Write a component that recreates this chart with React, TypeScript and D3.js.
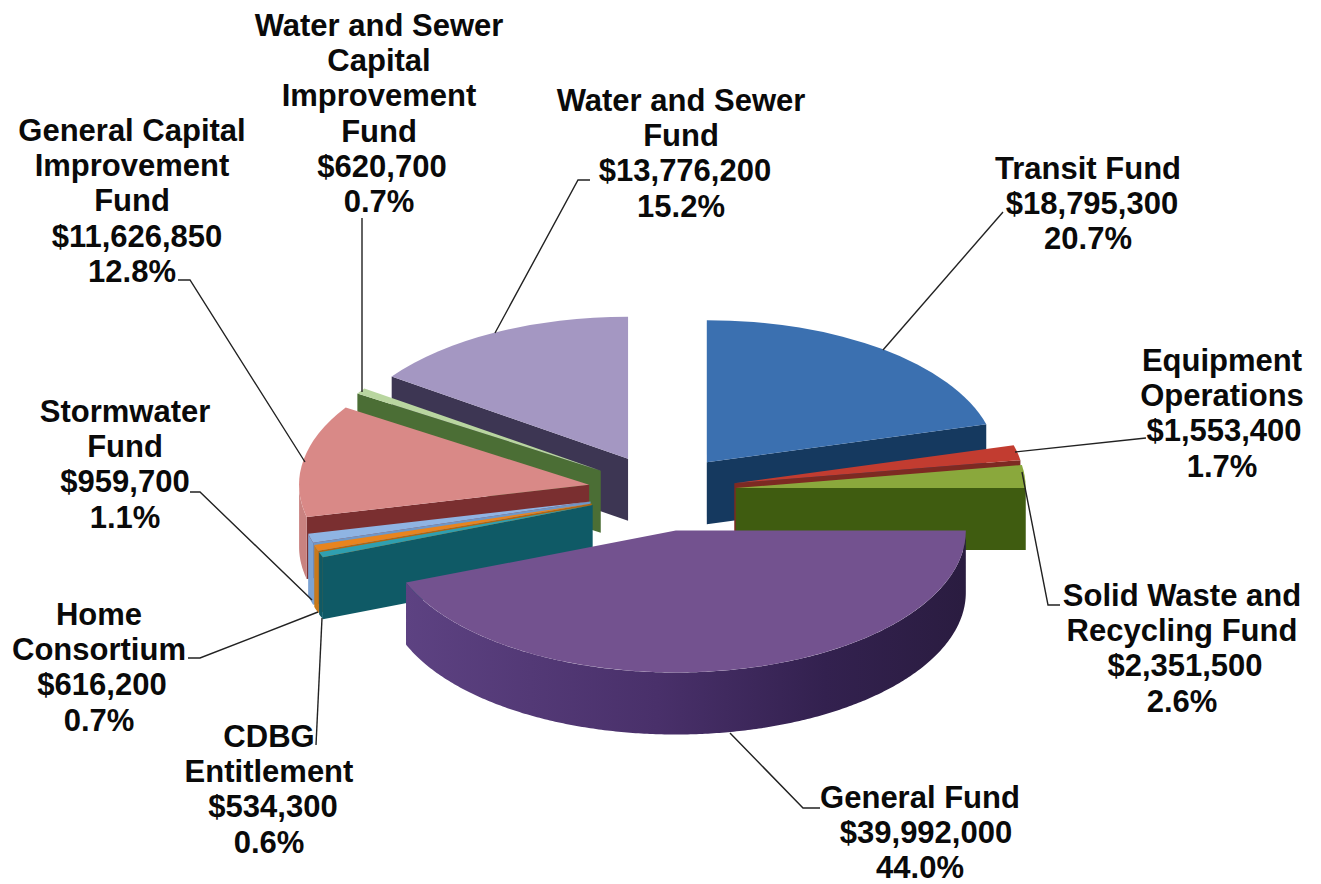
import React from "react";
import * as d3 from "d3";

// Budget by fund, clockwise from twelve o'clock
const fundNames = [
  ["Transit Fund"],
  ["Equipment", "Operations"],
  ["Solid Waste and", "Recycling Fund"],
  ["General Fund"],
  ["CDBG", "Entitlement"],
  ["Home", "Consortium"],
  ["Stormwater", "Fund"],
  ["General Capital", "Improvement", "Fund"],
  ["Water and Sewer", "Capital", "Improvement", "Fund"],
  ["Water and Sewer", "Fund"],
];
const fundAmounts = [18795300, 1553400, 2351500, 39992000, 534300, 616200, 959700, 11626850, 620700, 13776200];

const topColors = ["#3b70b0", "#c23c30", "#8aa83c", "#73528f", "#2f9fb0", "#e8841e", "#8fb4e3", "#d98987", "#b9d6a0", "#a497c2"];
const wallColors = ["#15395f", "#7d2a22", "#3f5c10", "#4a3268", "#0f5a66", "#b4650f", "#6f97c8", "#7a2f30", "#4b6e35", "#3d3653"];
const outerWallColors = ["#15395f", "#7d2a22", "#3f5c10", "url(#purpleWall)", "#0f5a66", "#c8791a", "#7ba3d4", "#c98280", "#4b6e35", "#3d3653"];

// Label block centres, first-line baselines and the nudge applied to the amount line
const labelCentres = [1088, 1222, 1182, 920, 269, 99, 125, 132, 379, 681];
const labelTops = [179, 371, 606, 808, 747, 625, 422, 141, 36, 111];
const amountNudges = [4, 2, 3, 6, 4, 3, 0, 5, 3, 4];
const LINE_PITCH = 35.2;

// Leader lines from each label to its slice
const leaderPaths: [number, number][][] = [
  [[1003, 212], [883, 350]],
  [[1146, 438], [1015, 452]],
  [[1060, 605], [1048, 605], [1022, 472]],
  [[820, 808], [803, 808], [730, 733]],
  [[316, 745], [322, 618]],
  [[188, 658], [200, 658], [318, 612]],
  [[190, 492], [200, 492], [312, 600]],
  [[178, 280], [190, 280], [305, 462]],
  [[362, 218], [362, 392]],
  [[590, 180], [578, 180], [495, 333]],
];

// Projected pie geometry; slices toward the viewer travel a little further down the screen
const CX = 662;
const CY = 491;
const RX = 290;
const RY = 142;
const DEPTH = 62;
const EXPLODE = 74;
const NEAR_STRETCH = 1.11;

const formatAmount = d3.format("$,");
const formatShare = d3.format(".1%");
const total = d3.sum(fundAmounts);
const pathLine = d3.line();
const topArc = d3.arc().innerRadius(0).outerRadius(RX);

const pieSlices = d3.pie<number>().sort(null).value((d) => d)(fundAmounts);

const slices = pieSlices
  .map((s, i) => {
    const mid = (s.startAngle + s.endAngle) / 2;
    const c = Math.cos(mid);
    return {
      i,
      start: s.startAngle,
      end: s.endAngle,
      ax: CX + EXPLODE * Math.sin(mid),
      ay: CY - (EXPLODE * c * (c < 0 ? NEAR_STRETCH : 1) * RY) / RX,
    };
  })
  .sort((a, b) => a.ay - b.ay);

function rim(ax: number, ay: number, angle: number, drop = 0): [number, number] {
  return [ax + RX * Math.sin(angle), ay - RY * Math.cos(angle) + drop];
}

function radialWall(ax: number, ay: number, angle: number) {
  return (
    pathLine([
      [ax, ay],
      rim(ax, ay, angle),
      rim(ax, ay, angle, DEPTH),
      [ax, ay + DEPTH],
    ]) + "Z"
  );
}

function outerWall(ax: number, ay: number, start: number, end: number) {
  const a0 = Math.max(start, Math.PI / 2);
  const a1 = Math.min(end, (3 * Math.PI) / 2);
  if (a1 <= a0) return null;
  const angles = d3.range(a0, a1, 0.01).concat(a1);
  const upper = angles.map((a) => rim(ax, ay, a));
  const lower = angles.map((a) => rim(ax, ay, a, DEPTH)).reverse();
  return pathLine(upper.concat(lower)) + "Z";
}

export default function App() {
  return (
    <svg
      width={1321}
      height={884}
      viewBox="0 0 1321 884"
      style={{ position: "absolute", left: 0, top: 0, background: "#fff", display: "block" }}
    >
      <defs>
        <linearGradient id="purpleWall" gradientUnits="userSpaceOnUse" x1="405" y1="0" x2="965" y2="0">
          <stop offset="0" stopColor="#5d4282" />
          <stop offset="0.45" stopColor="#49306a" />
          <stop offset="0.75" stopColor="#33214f" />
          <stop offset="1" stopColor="#2a1c40" />
        </linearGradient>
      </defs>

      {slices.map((s) => {
        const outer = outerWall(s.ax, s.ay, s.start, s.end);
        return (
          <g key={s.i}>
            {Math.sin(s.start) < -1e-6 && <path d={radialWall(s.ax, s.ay, s.start)} fill={wallColors[s.i]} />}
            {Math.sin(s.end) > 1e-6 && <path d={radialWall(s.ax, s.ay, s.end)} fill={wallColors[s.i]} />}
            {outer && <path d={outer} fill={outerWallColors[s.i]} />}
            <path
              d={topArc({ startAngle: s.start, endAngle: s.end } as any) as string}
              transform={`translate(${s.ax},${s.ay}) scale(1,${RY / RX})`}
              fill={topColors[s.i]}
            />
          </g>
        );
      })}

      {leaderPaths.map((p, i) => (
        <path key={i} d={pathLine(p) as string} fill="none" stroke="#222" strokeWidth={1.4} />
      ))}

      <g fontFamily="'Liberation Sans', Arial, sans-serif" fontWeight={700} fontSize={31} fill="#0a0a0a" textAnchor="middle">
        {fundNames.map((name, i) => {
          const lines = [...name, formatAmount(fundAmounts[i]), formatShare(fundAmounts[i] / total)];
          return (
            <text key={i} x={labelCentres[i]} y={labelTops[i]}>
              {lines.map((line, j) => (
                <tspan
                  key={j}
                  x={labelCentres[i] + (j === name.length ? amountNudges[i] : 0)}
                  y={labelTops[i] + j * LINE_PITCH}
                >
                  {line}
                </tspan>
              ))}
            </text>
          );
        })}
      </g>
    </svg>
  );
}
